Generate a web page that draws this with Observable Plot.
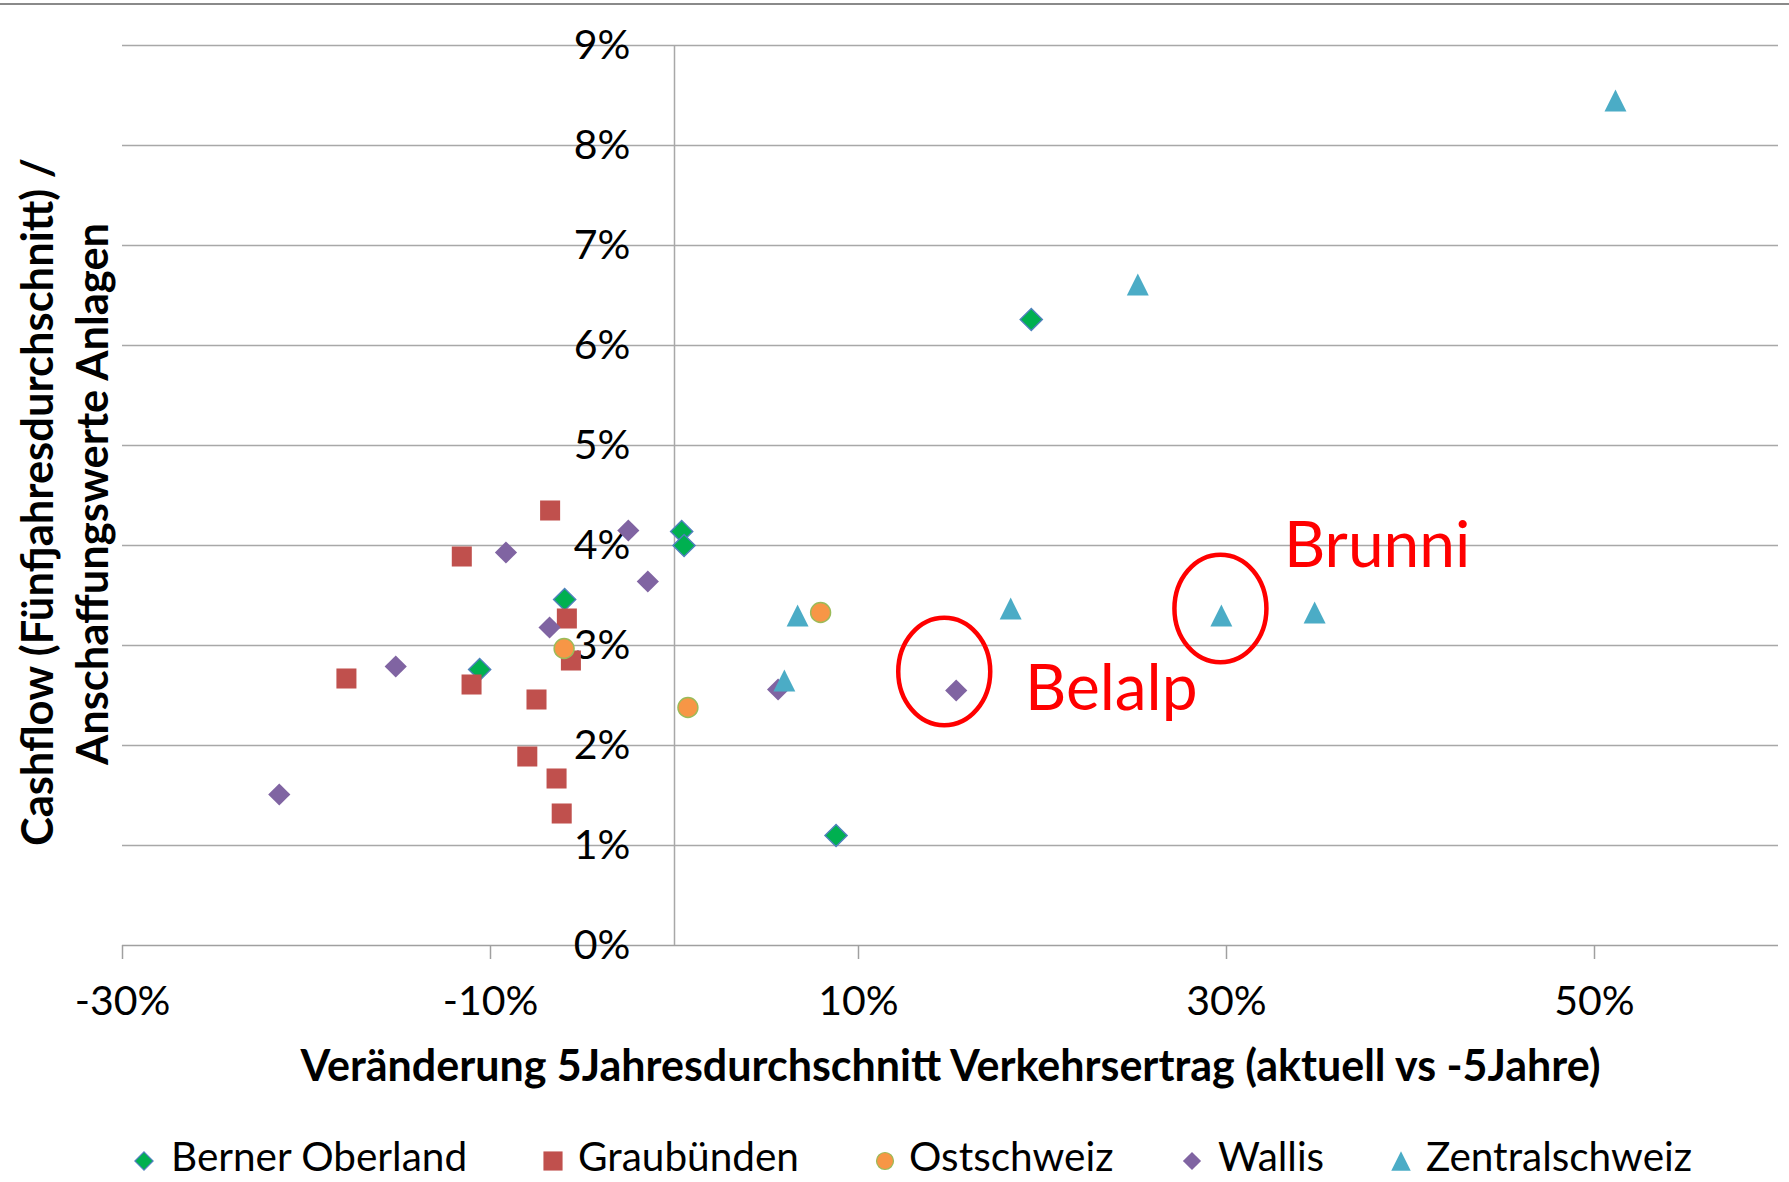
<!DOCTYPE html>
<html>
<head>
<meta charset="utf-8">
<script src="https://cdn.jsdelivr.net/npm/d3@7"></script>
<script src="https://cdn.jsdelivr.net/npm/@observablehq/plot@0.6"></script>
<style>
  html, body { margin: 0; padding: 0; background: #fff; overflow: hidden; }
  #wrap { position: relative; width: 1789px; height: 1182px; font-family: Lato, "Open Sans", sans-serif; }
  #topline { position: absolute; left: 0; top: 3px; width: 1789px; height: 2px; background: #8a8a8a; }
  #chart svg { display: block; }
  #legend { position: relative; width: 1789px; height: 62px; }
  .lg-text { position: absolute; font-size: 40.5px; color: #000; white-space: nowrap; line-height: 40px; top: 0; }
</style>
</head>
<body>
<div id="wrap">
  <div id="chart"></div>
  <div id="legend"></div>
  <div id="topline"></div>
</div>
<script>
// ---- Data ----
const seriesNames = ["Berner Oberland", "Graubünden", "Ostschweiz", "Wallis", "Zentralschweiz"];

const bernerX = [0.39, 0.52, -5.97, -10.59, 8.78, 19.39];
const bernerY = [4.14, 4.00, 3.46, 2.76, 1.10, 6.26];

const graubuendenX = [-6.76, -11.56, -5.85, -5.63, -17.83, -11.03, -7.50, -8.00, -6.41, -6.13];
const graubuendenY = [4.35, 3.89, 3.27, 2.85, 2.67, 2.61, 2.46, 1.89, 1.67, 1.32];

const ostschweizX = [7.94, -6.00, 0.73];
const ostschweizY = [3.33, 2.97, 2.38];

const wallisX = [-2.51, -9.16, -1.45, -6.79, -15.15, 5.63, -21.48, 15.31];
const wallisY = [4.15, 3.93, 3.64, 3.18, 2.79, 2.56, 1.51, 2.55];

const zentralX = [6.69, 5.97, 51.14, 25.18, 18.27, 29.72, 34.79];
const zentralY = [3.30, 2.65, 8.45, 6.61, 3.37, 3.30, 3.33];

const xTicks = [-30, -10, 10, 30, 50];
const xTickLabels = ["-30%", "-10%", "10%", "30%", "50%"];
const yTicks = [0, 1, 2, 3, 4, 5, 6, 7, 8, 9];
const yTickLabels = ["0%", "1%", "2%", "3%", "4%", "5%", "6%", "7%", "8%", "9%"];

const annotNames = ["Belalp", "Brunni"];
const annotCircleX = [14.66, 29.67];
const annotCircleY = [2.74, 3.37];
const annotLabelX = [19.05, 33.12];
const annotLabelY = [2.357, 3.784];

const xTitle = "Veränderung 5Jahresdurchschnitt Verkehrsertrag (aktuell vs -5Jahre)";
const yTitle1 = "Cashflow (Fünfjahresdurchschnitt) /";
const yTitle2 = "Anschaffungswerte Anlagen";

// ---- Styles ----
const seriesFill = ["#00B050", "#C0504D", "#F79646", "#8064A2", "#4BACC6"];
const seriesStroke = ["#4F81BD", "none", "#9BBB59", "none", "none"];
const seriesR = [10, 11.3, 10, 10, 9];

// Equal-width/height triangle, centered on its bounding box (like the spreadsheet marker)
const triangleSymbol = {
  draw(ctx, size) {
    const h = Math.sqrt(size / Math.PI) * 1.22;
    ctx.moveTo(0, -h);
    ctx.lineTo(h, h);
    ctx.lineTo(-h, h);
    ctx.closePath();
  }
};
const seriesSymbol = ["diamond2", "square", "circle", "diamond2", triangleSymbol];

const pts = (xs, ys) => xs.map((x, i) => ({x, y: ys[i]}));
const seriesData = [
  pts(bernerX, bernerY),
  pts(graubuendenX, graubuendenY),
  pts(ostschweizX, ostschweizY),
  pts(wallisX, wallisY),
  pts(zentralX, zentralY)
];

const ellipseSymbol = {
  draw(ctx, size) {
    const r = Math.sqrt(size / Math.PI);
    const rx = r, ry = r * 1.17, k = 0.5523;
    ctx.moveTo(rx, 0);
    ctx.bezierCurveTo(rx, k * ry, k * rx, ry, 0, ry);
    ctx.bezierCurveTo(-k * rx, ry, -rx, k * ry, -rx, 0);
    ctx.bezierCurveTo(-rx, -k * ry, -k * rx, -ry, 0, -ry);
    ctx.bezierCurveTo(k * rx, -ry, rx, -k * ry, rx, 0);
    ctx.closePath();
  }
};

const xTickData = xTicks.map((v, i) => ({v, label: xTickLabels[i]}));
const yTickData = yTicks.map((v, i) => ({v, label: yTickLabels[i]}));
const annotCircles = annotNames.map((n, i) => ({x: annotCircleX[i], y: annotCircleY[i]}));
const annotLabels = annotNames.map((n, i) => ({x: annotLabelX[i], y: annotLabelY[i], label: n}));

const dotMarks = seriesData.map((data, s) => Plot.dot(data, {
  x: "x", y: "y",
  symbol: seriesSymbol[s], r: seriesR[s],
  fill: seriesFill[s],
  stroke: seriesStroke[s],
  strokeWidth: seriesStroke[s] === "none" ? 0 : 1.4
}));

const chart = Plot.plot({
  width: 1789,
  height: 1120,
  marginLeft: 122,
  marginRight: 11,
  marginTop: 45,
  marginBottom: 175,
  x: {domain: [-30, 60], axis: null},
  y: {domain: [0, 9], axis: null},
  style: {fontFamily: "Lato, 'Open Sans', sans-serif", background: "white", color: "black"},
  marks: [
    Plot.ruleY(yTicks.filter(d => d > 0), {stroke: "#a8a8a8", strokeWidth: 1.5}),
    Plot.ruleY([0], {stroke: "#a0a0a0", strokeWidth: 1.6}),
    Plot.ruleX([0], {y1: 0, y2: 9, stroke: "#a8a8a8", strokeWidth: 1.5}),
    Plot.ruleX(xTickData, {x: "v", y1: 0, y2: 0, insetBottom: -14, stroke: "#a0a0a0", strokeWidth: 1.5}),
    Plot.text(xTickData, {x: "v", y: 0, text: "label", dy: 56, fontSize: 41, lineAnchor: "middle", fill: "black"}),
    Plot.text(yTickData, {x: 0, y: "v", text: "label", dx: -44, textAnchor: "end", fontSize: 41, lineAnchor: "middle", fill: "black"}),
    ...dotMarks,
    Plot.dot(annotCircles, {x: "x", y: "y", r: 46, symbol: ellipseSymbol, fill: "none", stroke: "#FF0000", strokeWidth: 4.5}),
    Plot.text(annotLabels, {x: "x", y: "y", text: "label", textAnchor: "start", lineAnchor: "bottom", fontSize: 64, fill: "#FF0000"}),
    Plot.text([xTitle], {frameAnchor: "bottom", text: d => d, dy: 135, textAnchor: "middle", lineAnchor: "bottom", fontSize: 43, fontWeight: "bold", fill: "black"}),
    Plot.text([yTitle1], {frameAnchor: "left", text: d => d, rotate: -90, dx: -70, dy: 6.5, textAnchor: "middle", lineAnchor: "bottom", fontSize: 43.5, fontWeight: "bold", fill: "black"}),
    Plot.text([yTitle2], {frameAnchor: "left", text: d => d, rotate: -90, dx: -15, dy: -1.6, textAnchor: "middle", lineAnchor: "bottom", fontSize: 43.5, fontWeight: "bold", fill: "black"})
  ]
});
document.getElementById("chart").appendChild(chart);

// ---- Legend (below the SVG) ----
const legendMarkerX = [143.5, 552.5, 885, 1192, 1401];
const legendTextX = [171, 578, 909, 1218, 1426];
const legendR = [8.2, 10.8, 8.5, 8.2, 8];
const legend = document.getElementById("legend");
seriesNames.forEach((name, i) => {
  const size = 26;
  const svg = d3.create("svg").attr("width", size).attr("height", size)
    .style("position", "absolute").style("left", (legendMarkerX[i] - size / 2) + "px").style("top", (40.5 - size / 2) + "px");
  const symName = seriesSymbol[i];
  const sym = typeof symName === "string"
    ? {diamond2: d3.symbolDiamond2, square: d3.symbolSquare, circle: d3.symbolCircle}[symName]
    : symName;
  svg.append("path")
    .attr("transform", `translate(${size / 2},${size / 2})`)
    .attr("d", d3.symbol(sym, Math.PI * legendR[i] * legendR[i])())
    .attr("fill", seriesFill[i])
    .attr("stroke", seriesStroke[i])
    .attr("stroke-width", seriesStroke[i] === "none" ? 0 : 1.2);
  legend.appendChild(svg.node());
  const t = document.createElement("div");
  t.className = "lg-text";
  t.textContent = name;
  t.style.left = legendTextX[i] + "px";
  t.style.top = "16px";
  legend.appendChild(t);
});
</script>
</body>
</html>
